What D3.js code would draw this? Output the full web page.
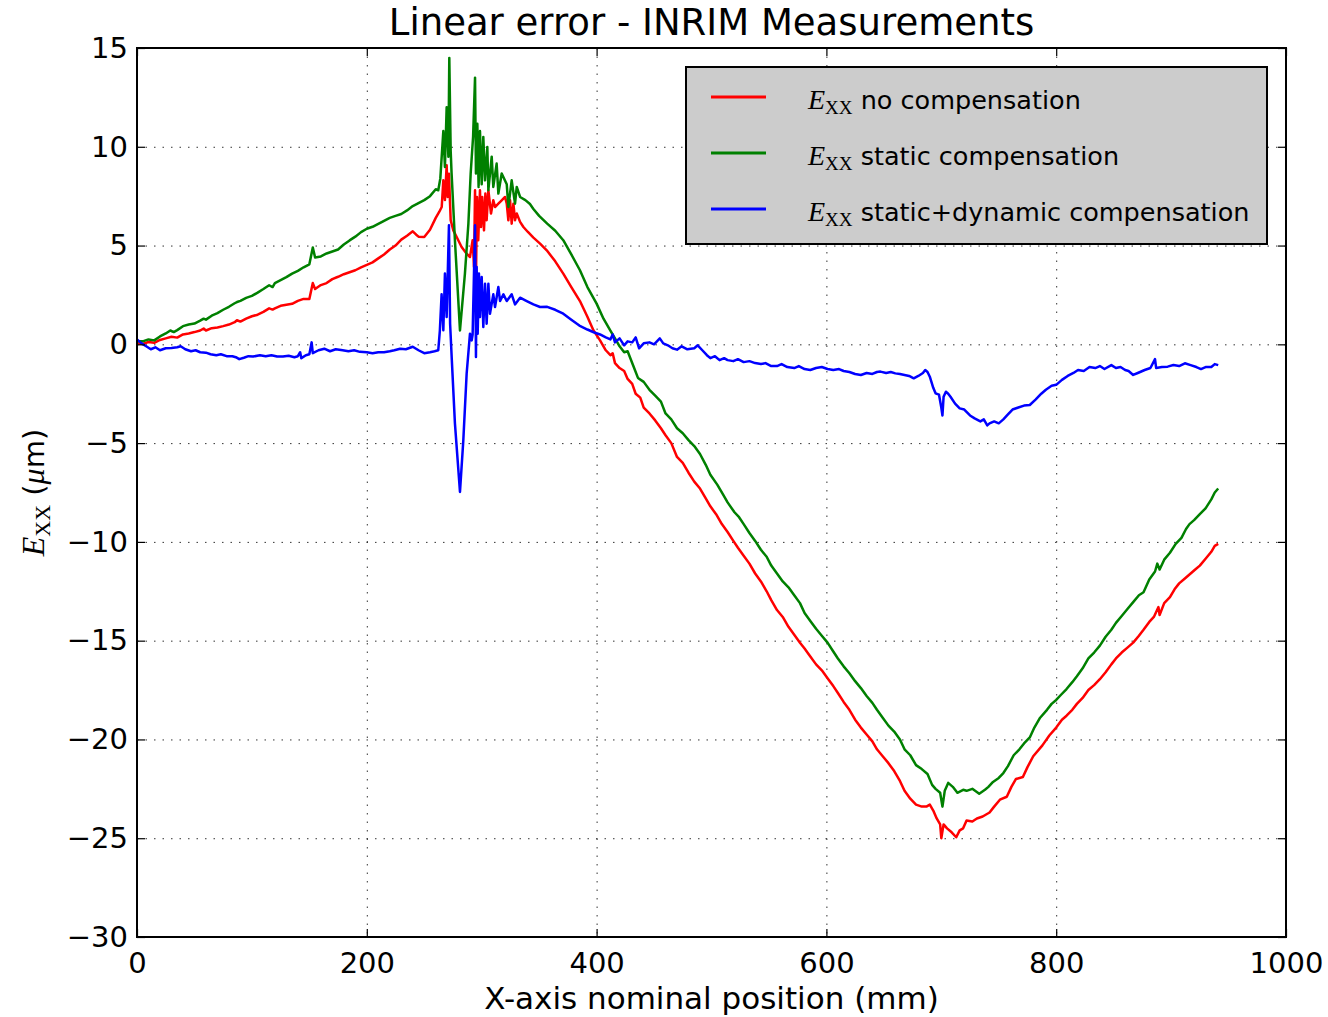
<!DOCTYPE html>
<html>
<head>
<meta charset="utf-8">
<script src="https://d3js.org/d3.v7.min.js"></script>
<style>
  body { margin: 0; background: #fff; }
  text { font-family: "DejaVu Sans", sans-serif; fill: #000; }
  .grid line { stroke: #000; stroke-width: 1; stroke-dasharray: 1.5, 7; opacity: 0.8; }
  .grid path { display: none; }
  .math { font-family: "Liberation Serif", serif; }
</style>
</head>
<body>
<div id="chart"></div>
<script>
var svgWidth = 1328;
var svgHeight = 1017;

var margin = { top: 48, right: 42, bottom: 80, left: 137 };

var width = svgWidth - margin.left - margin.right;
var height = svgHeight - margin.top - margin.bottom;

// axis ticks
var xTicks = [0, 200, 400, 600, 800, 1000];
var yTicks = [15, 10, 5, 0, -5, -10, -15, -20, -25, -30];

var seriesLabels = ["no compensation", "static compensation", "static+dynamic compensation"];

// [position (mm), error (um)]
var redPoints = [
  [0,0.05],[5,0.02],[10,0.12],[15,0.08],[20,0.22],[25,0.3],[30,0.38],[35,0.34],[40,0.5],[45,0.55],
  [50,0.62],[55,0.7],[58,0.8],[60,0.7],[65,0.82],[70,0.85],[75,0.92],[80,1.0],[85,1.12],[87,1.22],[90,1.15],[95,1.3],
  [100,1.42],[105,1.5],[110,1.64],[115,1.82],[118,1.76],[120,1.82],[125,1.95],[130,2.0],[135,2.05],[140,2.2],[145,2.3],
  [150,2.3],[153,3.1],[155,2.8],[160,3.0],[165,3.1],[170,3.3],[175,3.42],[180,3.55],[185,3.65],[190,3.75],
  [195,3.9],[200,4.02],[205,4.15],[210,4.35],[215,4.55],[220,4.8],[225,5.0],[230,5.3],[235,5.5],[240,5.72],
  [243,5.55],[245,5.45],[250,5.43],[255,5.8],[260,6.4],
  [263,6.7],[265.2,6.95],[266.6,8.3],[268,7.3],[269.5,9.06],[270.4,7.46],[271.5,8.64],[273,6.28],[275.3,5.77],
  [278.2,5.43],[282.5,4.93],[286.9,4.59],[289.8,4.42],[292.1,5.27],[293.3,3.92],[294.2,7.8],[295,3.24],
  [295.9,7.46],[297,5.27],[298.5,7.8],[299.4,5.94],[300.5,7.46],[302,5.77],[303.2,7.63],[304.3,6.28],
  [305.8,7.8],[308.1,6.62],[310.1,7.29],[311.6,6.95],[314.5,7.12],[317.4,7.29],[320.3,7.46],[321.8,7.12],
  [323.2,6.28],[324.7,7.29],[326.1,6.11],[327.6,7.12],[329,6.28],[330.5,6.62],[333.4,6.2],[336.3,5.94],
  [340,5.7],[345,5.4],[350.8,5.1],[356.6,4.76],[364,4.2],[371,3.58],[378,2.9],[385.5,2.19],[392,1.4],
  [397.2,0.71],[403,0.2],[408,-0.3],[412,-0.55],[414,-0.45],[416,-0.95],[420,-1.2],[424,-1.35],[427,-1.75],[431,-2.0],
  [434,-2.5],[438,-2.7],[441,-3.2],[446,-3.5],[451,-3.85],[456,-4.25],[460,-4.6],[465,-5.0],[470,-5.7],
  [475,-6.0],[480,-6.5],[485,-6.95],[490,-7.3],[495,-7.8],[499,-8.2],[504,-8.6],[509,-9.1],[514,-9.5],
  [519,-9.95],[523,-10.3],[528,-10.7],[533,-11.1],[538,-11.6],[543,-12.0],[548,-12.5],[552,-12.95],
  [557,-13.45],[562,-13.8],[567,-14.3],[572,-14.7],[577,-15.1],[581,-15.4],[586,-15.8],[591,-16.2],
  [596,-16.5],[601,-16.9],[606,-17.3],[610,-17.65],[615,-18.1],[620,-18.5],[625,-19.0],[630,-19.4],
  [635,-19.75],[640,-20.1],[644,-20.5],[649,-20.85],[654,-21.2],[659,-21.6],[664,-22.1],[668,-22.6],
  [673,-23.0],[678,-23.3],[683,-23.4],[687,-23.4],[690,-23.3],[693,-23.6],[696,-24.0],[699,-24.3],
  [700,-25.0],[702,-24.3],[705,-24.5],[709,-24.7],[713,-24.95],[716,-24.6],[719,-24.5],[722,-24.1],
  [727,-24.15],[731,-24.0],[736,-23.9],[742,-23.7],[746,-23.4],[751,-23.05],[757,-22.9],[761,-22.4],
  [765,-22.0],[771,-21.9],[775,-21.4],[780,-20.85],[788,-20.3],[794,-19.8],[800,-19.4],[805,-19.0],
  [809,-18.8],[814,-18.5],[818,-18.2],[823,-17.9],[828,-17.5],[833,-17.25],[838,-16.95],[843,-16.6],
  [848,-16.2],[852,-15.9],[857,-15.6],[862,-15.35],[867,-15.1],[872,-14.75],[876,-14.45],[881,-14.05],
  [885,-13.8],[889,-13.3],[890,-13.7],[894,-13.1],[899,-12.8],[903,-12.4],[907,-12.1],[912,-11.85],
  [917,-11.6],[921,-11.4],[925,-11.2],[930,-10.85],[935,-10.5],[938,-10.2],[941,-10.1]
];

var greenPoints = [
  [0,0.15],[5,0.15],[10,0.25],[15,0.2],[20,0.4],[25,0.55],[29,0.7],[32,0.62],[35,0.72],[40,0.92],[45,1.0],
  [50,1.05],[55,1.2],[58,1.3],[60,1.25],[65,1.45],[70,1.58],[75,1.75],[80,1.9],[85,2.08],[87,2.14],[90,2.2],[95,2.35],
  [100,2.45],[105,2.62],[110,2.8],[115,2.99],[118,2.9],[120,3.1],[125,3.25],[130,3.4],[135,3.58],[140,3.72],[145,3.9],
  [150,4.05],[153,4.9],[155,4.4],[160,4.45],[165,4.6],[170,4.7],[175,4.8],[180,5.05],[185,5.26],[190,5.45],
  [195,5.68],[200,5.85],[205,5.95],[210,6.1],[215,6.25],[220,6.4],[225,6.5],[230,6.6],[235,6.78],[240,7.0],
  [245,7.15],[250,7.3],[255,7.5],[260,7.85],
  [262.2,7.8],[264,8.4],[266.6,10.8],[268,8.98],[269.5,12.0],[271,9.5],[271.8,14.5],[273,9.8],[273.8,8.65],
  [276.7,5.27],[281.1,0.7],[285.4,3.58],[288.4,6.1],[290.4,8.65],[292.5,10.5],[294.2,13.5],[295,8.65],
  [296.2,11.17],[297.3,7.97],[298.5,10.8],[300,8.1],[301.4,10.5],[302.9,8.3],[304.9,9.99],[305.8,7.8],
  [308.7,9.5],[310.1,7.97],[313,9.15],[314.5,7.63],[317.4,8.65],[321.8,8.1],[323.2,6.95],[326.1,8.3],
  [329,7.12],[330.5,7.97],[333.4,7.46],[338,7.3],[342,7.1],[345,6.85],[350,6.5],[357,6.11],[364,5.75],
  [371,5.27],[378,4.55],[385.5,3.75],[392,2.9],[400,2.06],[406,1.3],[412,0.7],[416,0.3],[420,-0.1],
  [424,-0.4],[427,-0.35],[432,-1.1],[436,-1.7],[441,-1.9],[446,-2.3],[451,-2.6],[456,-2.9],[460,-3.5],
  [465,-3.8],[470,-4.25],[475,-4.5],[480,-4.85],[485,-5.15],[490,-5.55],[495,-6.1],[499,-6.6],[505,-7.1],
  [510,-7.6],[514,-8.0],[520,-8.5],[524,-8.75],[528,-9.1],[533,-9.55],[538,-9.95],[543,-10.4],[548,-10.75],
  [552,-11.2],[557,-11.6],[562,-12.0],[567,-12.3],[572,-12.7],[577,-13.1],[581,-13.6],[586,-14.0],
  [591,-14.4],[596,-14.75],[601,-15.1],[606,-15.55],[610,-15.9],[615,-16.3],[620,-16.65],[625,-17.05],
  [630,-17.4],[635,-17.8],[640,-18.15],[644,-18.5],[649,-18.9],[654,-19.3],[659,-19.6],[664,-20.0],
  [668,-20.5],[673,-20.8],[678,-21.3],[683,-21.5],[688,-21.75],[692,-22.3],[695,-22.5],[699,-22.7],
  [701,-23.4],[703,-22.6],[706,-22.2],[710,-22.4],[714,-22.7],[719,-22.55],[722,-22.6],[727,-22.5],
  [733,-22.75],[738,-22.55],[741,-22.4],[745,-22.15],[750,-21.95],[754,-21.7],[758,-21.35],[763,-20.8],
  [768,-20.5],[772,-20.2],[777,-19.9],[781,-19.4],[786,-18.9],[792,-18.5],[796,-18.2],[800,-18.0],
  [804,-17.75],[809,-17.45],[814,-17.1],[818,-16.8],[823,-16.4],[828,-15.9],[833,-15.6],[838,-15.25],
  [843,-14.8],[848,-14.45],[852,-14.1],[857,-13.75],[862,-13.4],[867,-13.05],[872,-12.7],[876,-12.55],
  [881,-11.9],[886,-11.5],[888,-11.1],[890,-11.4],[894,-10.9],[899,-10.55],[904,-10.1],[909,-9.8],
  [913,-9.35],[916,-9.1],[920,-8.9],[925,-8.6],[930,-8.3],[935,-7.85],[938,-7.5],[941,-7.3]
];

var bluePoints = [
  [0,0.25],[4,0.05],[8,-0.1],[12,-0.25],[16,-0.15],[20,-0.3],[25,-0.2],[30,-0.18],[35,-0.15],[38,-0.1],
  [42,-0.25],[47,-0.35],[51,-0.3],[55,-0.4],[60,-0.42],[64,-0.5],[69,-0.55],[73,-0.5],[78,-0.6],[83,-0.6],
  [86,-0.65],[89,-0.75],[93,-0.68],[97,-0.6],[101,-0.62],[107,-0.55],[112,-0.6],[117,-0.55],[122,-0.62],
  [127,-0.62],[132,-0.58],[137,-0.65],[140,-0.6],[142,-0.4],[143,-0.7],[147,-0.55],[150,-0.5],[152,0.1],
  [153,-0.45],[158,-0.3],[163,-0.22],[168,-0.35],[173,-0.25],[179,-0.3],[184,-0.35],[189,-0.3],[194,-0.38],
  [200,-0.4],[205,-0.45],[210,-0.4],[215,-0.4],[220,-0.35],[224,-0.3],[229,-0.22],[234,-0.25],[240,-0.12],
  [245,-0.3],[250,-0.45],[255,-0.4],[259,-0.35],
  [262.2,-0.3],[263.6,0.71],[265.1,2.53],[266.6,0.71],[268,3.58],[269.5,1.38],[271.5,6.03],[272.5,1.04],
  [274,-0.8],[276.7,-4.0],[281.1,-7.47],[284,-4.86],[286.9,-1.48],[289.8,0.54],[291.3,0.2],[292.1,0.5],
  [294.2,6.03],[295,-0.64],[295.6,3.92],[296.5,0.54],[297.6,3.58],[298.5,1.38],[300,3.41],[301.4,0.88],
  [302.9,3.07],[304.3,1.04],[305.8,3.07],[307.2,1.55],[310.1,2.53],[311.6,1.89],[314.5,2.9],[316,2.19],
  [318.9,2.53],[321.8,2.19],[326.1,2.53],[329,2.02],[333.4,2.36],[339.2,2.19],[345,2.02],[350.8,1.89],
  [357,1.9],[364,1.75],[371,1.55],[378,1.25],[385,0.95],[392,0.75],[398,0.6],[403,0.5],[408,0.35],
  [412,0.25],[414,0.5],[416,0.1],[420,0.3],[424,-0.05],[427,0.15],[431,0.1],[434,0.35],[437,-0.2],
  [441,0.05],[446,0.1],[450,0.0],[455,0.3],[458,0.05],[462,-0.05],[466,-0.2],[470,-0.27],[474,-0.1],
  [479,-0.25],[485,-0.2],[488,-0.05],[492,-0.3],[496,-0.55],[499,-0.7],[503,-0.6],[507,-0.8],[511,-0.7],
  [514,-0.8],[519,-0.85],[523,-0.75],[528,-0.9],[533,-0.85],[538,-0.95],[543,-1.0],[547,-0.95],[552,-1.1],
  [557,-1.1],[561,-1.0],[566,-1.15],[572,-1.2],[576,-1.1],[581,-1.25],[586,-1.3],[591,-1.2],[596,-1.15],
  [601,-1.25],[606,-1.3],[611,-1.25],[615,-1.35],[620,-1.4],[625,-1.5],[630,-1.55],[635,-1.45],[640,-1.5],
  [644,-1.4],[647,-1.38],[652,-1.45],[656,-1.4],[660,-1.47],[664,-1.5],[668,-1.55],[672,-1.6],[676,-1.72],
  [680,-1.6],[684,-1.45],[686,-1.3],[688,-1.4],[690,-1.64],[693,-2.2],[695,-2.48],[698,-2.55],[700,-3.2],
  [701,-3.6],[702,-2.65],[704,-2.4],[706,-2.5],[708,-2.65],[712,-3.0],[716,-3.24],[720,-3.3],[725,-3.6],
  [729,-3.75],[734,-3.9],[737,-3.8],[740,-4.1],[742,-4.0],[746,-3.9],[750,-4.0],[754,-3.8],[758,-3.55],
  [762,-3.3],[767,-3.2],[772,-3.1],[777,-3.07],[782,-2.8],[787,-2.5],[791,-2.3],[796,-2.1],[800,-2.05],
  [805,-1.8],[810,-1.6],[815,-1.45],[819,-1.3],[824,-1.35],[829,-1.15],[834,-1.2],[838,-1.1],[842,-1.25],
  [848,-1.05],[852,-1.2],[856,-1.15],[860,-1.3],[863,-1.35],[867,-1.55],[871,-1.45],[877,-1.3],[882,-1.2],
  [886,-0.75],[887,-1.2],[892,-1.15],[897,-1.13],[902,-1.05],[907,-1.1],[912,-0.96],[917,-1.05],[922,-1.15],
  [926,-1.25],[930,-1.15],[935,-1.15],[938,-1.0],[941,-1.05]
];

var series = [
  { points: redPoints, color: "#ff0000", label: seriesLabels[0] },
  { points: greenPoints, color: "#008000", label: seriesLabels[1] },
  { points: bluePoints, color: "#0000ff", label: seriesLabels[2] }
];

var svg = d3.select("#chart")
  .append("svg")
  .attr("width", svgWidth)
  .attr("height", svgHeight);

var chartGroup = svg.append("g")
  .attr("transform", `translate(${margin.left}, ${margin.top})`);

var xScale = d3.scaleLinear().domain([0, 1000]).range([0, width]);
var yScale = d3.scaleLinear().domain([-30, 15]).range([height, 0]);

// dotted grid
chartGroup.append("g")
  .attr("class", "grid")
  .call(d3.axisTop(xScale).tickValues(xTicks).tickSize(-height).tickFormat(""));

chartGroup.append("g")
  .attr("class", "grid")
  .call(d3.axisLeft(yScale).tickValues(yTicks).tickSize(-width).tickFormat(""));

// lines
var line = d3.line()
  .x(d => xScale(d[0]))
  .y(d => yScale(d[1]));

var plotArea = chartGroup.append("g");
series.forEach(function(s) {
  plotArea.append("path")
    .datum(s.points)
    .attr("fill", "none")
    .attr("stroke", s.color)
    .attr("stroke-width", 2.5)
    .attr("stroke-linejoin", "round")
    .attr("d", line);
});

// axes with inward ticks on all four sides
var bottomAxis = d3.axisBottom(xScale).tickValues(xTicks).tickSize(-8).tickPadding(10).tickFormat(d3.format("d"));
var leftAxis = d3.axisLeft(yScale).tickValues(yTicks).tickSize(-8).tickPadding(9).tickFormat(d3.format("d"));

var xAxisG = chartGroup.append("g")
  .attr("transform", `translate(0, ${height})`)
  .call(bottomAxis);
var yAxisG = chartGroup.append("g").call(leftAxis);

chartGroup.append("g")
  .call(d3.axisTop(xScale).tickValues(xTicks).tickSize(-8).tickFormat(""));
chartGroup.append("g")
  .attr("transform", `translate(${width}, 0)`)
  .call(d3.axisRight(yScale).tickValues(yTicks).tickSize(-8).tickFormat(""));

chartGroup.selectAll(".domain").attr("stroke", "none");
chartGroup.selectAll(".tick line").attr("stroke", "#000").attr("stroke-width", 1.2);
xAxisG.selectAll("text").attr("font-size", 29).attr("dy", "0.9em").style("font-family", "DejaVu Sans");
yAxisG.selectAll("text").attr("font-size", 29).style("font-family", "DejaVu Sans");

// frame
chartGroup.append("rect")
  .attr("width", width)
  .attr("height", height)
  .attr("fill", "none")
  .attr("stroke", "#000")
  .attr("stroke-width", 2);

// title and axis labels
svg.append("text")
  .attr("x", margin.left + width / 2)
  .attr("y", 35)
  .attr("text-anchor", "middle")
  .attr("font-size", 37)
  .text("Linear error - INRIM Measurements");

svg.append("text")
  .attr("x", margin.left + width / 2)
  .attr("y", 1009)
  .attr("text-anchor", "middle")
  .attr("font-size", 31)
  .text("X-axis nominal position (mm)");

var yLabel = svg.append("text")
  .attr("transform", `translate(44, ${margin.top + height / 2}) rotate(-90)`)
  .attr("text-anchor", "middle")
  .attr("font-size", 29);
yLabel.append("tspan").attr("class", "math").attr("font-style", "italic").attr("font-size", 32).text("E");
yLabel.append("tspan").attr("class", "math").attr("font-size", 22).attr("dy", 6).text("XX");
yLabel.append("tspan").attr("dy", -6).text(" (");
yLabel.append("tspan").attr("class", "math").attr("font-style", "italic").attr("font-size", 32).text("μ");
yLabel.append("tspan").text("m)");

// legend
var legend = svg.append("g").attr("transform", "translate(686, 67)");
legend.append("rect")
  .attr("width", 581)
  .attr("height", 177)
  .attr("fill", "#cccccc")
  .attr("stroke", "#000")
  .attr("stroke-width", 2);

series.forEach(function(s, i) {
  var rowY = 30 + i * 56;
  legend.append("line")
    .attr("x1", 25).attr("x2", 80)
    .attr("y1", rowY).attr("y2", rowY)
    .attr("stroke", s.color)
    .attr("stroke-width", 3);
  var t = legend.append("text")
    .attr("x", 122)
    .attr("y", rowY + 12)
    .attr("font-size", 25.5);
  t.append("tspan").attr("class", "math").attr("font-style", "italic").attr("font-size", 28).text("E");
  t.append("tspan").attr("class", "math").attr("font-size", 19).attr("dy", 5).text("XX");
  t.append("tspan").attr("dy", -5).text(" " + s.label);
});
</script>
</body>
</html>
